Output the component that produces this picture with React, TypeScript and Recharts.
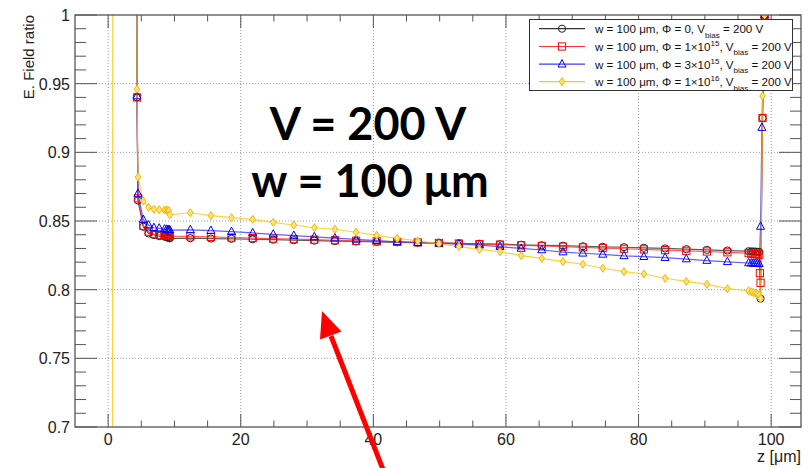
import React from "react"
import { LineChart, Line, XAxis, YAxis, ReferenceLine } from "recharts"

const W = 811
const H = 468
const FONT = "'Liberation Sans', Arial, Helvetica, sans-serif"
const AXIS = "#555"

// axis ticks (ROOT style: minor every 5 um / 0.01, labels on majors)
const xTicks = [0, 5, 10, 15, 20, 25, 30, 35, 40, 45, 50, 55, 60, 65, 70, 75, 80, 85, 90, 95, 100]
const xMajor = [0, 20, 40, 60, 80, 100]
const yTicks = [
  0.7, 0.71, 0.72, 0.73, 0.74, 0.75, 0.76, 0.77, 0.78, 0.79, 0.8, 0.81, 0.82, 0.83, 0.84, 0.85,
  0.86, 0.87, 0.88, 0.89, 0.9, 0.91, 0.92, 0.93, 0.94, 0.95, 0.96, 0.97, 0.98, 0.99, 1,
]
const yMajor = [0.7, 0.75, 0.8, 0.85, 0.9, 0.95, 1]

// z [um] near the front electrode (shared by all four curves)
const zLeft = [4.2, 4.35, 4.5, 5.3, 6.1, 6.9, 7.7, 8.5, 8.8, 9.0, 9.15]
// regular mesh points through the bulk
const zMesh = [
  9.3, 12.4, 15.5, 18.6, 21.8, 24.9, 28.0, 31.1, 34.2, 37.4, 40.5, 43.6, 46.7, 49.9, 52.9,
  56.0, 59.1, 62.3, 65.4, 68.6, 71.6, 74.6, 77.8, 80.8, 84.0, 87.2, 90.3, 93.4, 96.6,
]

// Phi = 0
const blackLeft = [1.6, 0.94, 0.865, 0.8458, 0.841, 0.8398, 0.839, 0.8386, 0.8383, 0.838, 0.8377]
const blackMid = [
  0.8374, 0.8375, 0.8372, 0.837, 0.8367, 0.8364, 0.836, 0.8357, 0.8354, 0.8351, 0.8348, 0.8345,
  0.8342, 0.834, 0.8337, 0.8334, 0.8331, 0.8327, 0.8323, 0.832, 0.8316, 0.8312, 0.8309, 0.8305,
  0.83, 0.8295, 0.829, 0.8285, 0.828,
]
const blackRightZ = [97.0, 97.3, 97.6, 97.9, 98.2, 98.4, 98.7, 99.0]
const blackRight = [0.8278, 0.8278, 0.8277, 0.8276, 0.8275, 0.7935, 0.925, 1.0]

// Phi = 1e15
const redLeft = [1.6, 0.94, 0.8665, 0.8466, 0.8422, 0.8405, 0.84, 0.8396, 0.8394, 0.8392, 0.8391]
const redMid = [
  0.839, 0.8388, 0.8384, 0.838, 0.8376, 0.8372, 0.8368, 0.8364, 0.836, 0.8356, 0.8352, 0.8348,
  0.8344, 0.834, 0.8336, 0.8332, 0.8328, 0.8323, 0.8318, 0.8313, 0.8308, 0.8303, 0.8298, 0.8293,
  0.8288, 0.8283, 0.8278, 0.8272, 0.8266,
]
const redRightZ = [97.0, 97.3, 97.6, 97.9, 98.2, 98.3, 98.4, 98.7, 99.0]
const redRight = [0.8262, 0.826, 0.826, 0.8259, 0.8255, 0.812, 0.805, 0.925, 1.0]

// Phi = 3e15
const blueLeft = [1.6, 0.941, 0.87, 0.851, 0.847, 0.8451, 0.8447, 0.844, 0.8438, 0.8436, 0.8435]
const blueMid = [
  0.8434, 0.8436, 0.843, 0.8422, 0.8413, 0.8403, 0.8394, 0.8384, 0.8375, 0.8366, 0.8357, 0.8349,
  0.8342, 0.8337, 0.8331, 0.8325, 0.8313, 0.83, 0.8289, 0.8274, 0.8265, 0.8257, 0.8246, 0.824,
  0.8233, 0.8223, 0.8212, 0.8203, 0.8194,
]
const blueRightZ = [97.0, 97.3, 97.6, 97.9, 98.2, 98.4, 98.6, 99.0]
const blueRight = [0.8193, 0.8192, 0.8192, 0.819, 0.8188, 0.846, 0.918, 1.0]

// Phi = 1e16
const yellowEdgeZ = [0.62, 0.75]
const yellowEdge = [0.3, 1.6]
const yellowLeft = [1.6, 0.946, 0.882, 0.8645, 0.86, 0.8585, 0.8582, 0.858, 0.8578, 0.8576, 0.8574]
const yellowMid = [
  0.8545, 0.856, 0.8539, 0.8524, 0.8512, 0.849, 0.8471, 0.8451, 0.844, 0.8418, 0.8396, 0.8374,
  0.8355, 0.8335, 0.8314, 0.8293, 0.8276, 0.8248, 0.8228, 0.8204, 0.8185, 0.8156, 0.8131, 0.8114,
  0.8083, 0.806, 0.8039, 0.8007, 0.7992,
]
const yellowRightZ = [97.0, 97.3, 97.6, 97.9, 98.2, 98.4, 98.7, 99.0]
const yellowRight = [0.7985, 0.798, 0.7975, 0.797, 0.796, 0.7935, 0.941, 1.0]

const toPoints = (z: number[], e: number[]) => z.map((zz, i) => ({ z: zz, e: e[i] }))

type Marker = "circle" | "square" | "triangle" | "diamond"

const series = [
  {
    key: "phi0", line: "#333", mark: "#222", marker: "circle" as Marker, phi: "0", exp: "",
    data: [...toPoints(zLeft, blackLeft), ...toPoints(zMesh, blackMid), ...toPoints(blackRightZ, blackRight)],
  },
  {
    key: "phi1e15", line: "#ff3030", mark: "#ff0000", marker: "square" as Marker, phi: "1×10", exp: "15",
    data: [...toPoints(zLeft, redLeft), ...toPoints(zMesh, redMid), ...toPoints(redRightZ, redRight)],
  },
  {
    key: "phi3e15", line: "#3a3aff", mark: "#0000ff", marker: "triangle" as Marker, phi: "3×10", exp: "15",
    data: [...toPoints(zLeft, blueLeft), ...toPoints(zMesh, blueMid), ...toPoints(blueRightZ, blueRight)],
  },
  {
    key: "phi1e16", line: "#ffc60a", mark: "#f2b800", marker: "diamond" as Marker, phi: "1×10", exp: "16",
    data: [
      ...toPoints(yellowEdgeZ, yellowEdge),
      ...toPoints(zLeft, yellowLeft),
      ...toPoints(zMesh, yellowMid),
      ...toPoints(yellowRightZ, yellowRight),
    ],
  },
]

function MarkerShape({ kind, cx, cy, color }: { kind: Marker; cx: number; cy: number; color: string }) {
  if (kind === "circle") return <circle cx={cx} cy={cy} r={3.6} fill="none" stroke={color} strokeWidth={1} />
  if (kind === "square")
    return <rect x={cx - 3.6} y={cy - 3.6} width={7.2} height={7.2} fill="none" stroke={color} strokeWidth={1} />
  if (kind === "triangle")
    return (
      <polygon
        points={`${cx},${cy - 4.6} ${cx - 4},${cy + 2.8} ${cx + 4},${cy + 2.8}`}
        fill="none"
        stroke={color}
        strokeWidth={1}
      />
    )
  return (
    <polygon
      points={`${cx},${cy - 4} ${cx + 2.8},${cy} ${cx},${cy + 4} ${cx - 2.8},${cy}`}
      fill="#ffe27a"
      stroke={color}
      strokeWidth={1}
    />
  )
}

const makeDot = (kind: Marker, color: string) => (p: any) => {
  const v = p.value
  if (v == null || v > 1.0005 || v < 0.6995 || p.cx == null) return <g key={p.index} />
  return (
    <g key={p.index}>
      <MarkerShape kind={kind} cx={p.cx} cy={p.cy} color={color} />
    </g>
  )
}

const isMajor = (list: number[], v: number) => list.some((m) => Math.abs(m - v) < 1e-9)

function BottomTick(p: any) {
  const v = p.payload.value
  const major = isMajor(xMajor, v)
  const x = p.payload.coordinate ?? p.x
  return (
    <g>
      <line x1={x} x2={x} y1={427} y2={427 - (major ? 13 : 6.5)} stroke={AXIS} />
      {major && (
        <text x={x} y={445} textAnchor="middle" fontSize={16} fontFamily={FONT} fill="#222">
          {v}
        </text>
      )}
    </g>
  )
}

function TopTick(p: any) {
  const major = isMajor(xMajor, p.payload.value)
  const x = p.payload.coordinate ?? p.x
  return <line x1={x} x2={x} y1={15} y2={15 + (major ? 13 : 6.5)} stroke={AXIS} />
}

function LeftTick(p: any) {
  const v = p.payload.value
  const major = isMajor(yMajor, v)
  const y = p.payload.coordinate ?? p.y
  return (
    <g>
      <line x1={75} x2={75 + (major ? 22 : 11)} y1={y} y2={y} stroke={AXIS} />
      {major && (
        <text x={70} y={y + 6} textAnchor="end" fontSize={16} fontFamily={FONT} fill="#222">
          {String(v)}
        </text>
      )}
    </g>
  )
}

function RightTick(p: any) {
  const major = isMajor(yMajor, p.payload.value)
  const y = p.payload.coordinate ?? p.y
  return <line x1={801} x2={801 - (major ? 22 : 11)} y1={y} y2={y} stroke={AXIS} />
}

function LegendBox() {
  const rows = [28.7, 46.5, 64.2, 81.7]
  return (
    <svg width={W} height={H} style={{ position: "absolute", left: 0, top: 0, pointerEvents: "none" }}>
      <rect x={529.5} y={19.5} width={263} height={71} fill="#fff" stroke="#333" strokeWidth={1} />
      {series.map((s, i) => {
        const y = rows[i]
        return (
          <g key={s.key}>
            <line x1={539} x2={585} y1={y} y2={y} stroke={s.line} strokeWidth={1.2} />
            <MarkerShape kind={s.marker} cx={562} cy={y} color={s.mark} />
            <text x={595} y={y + 4.3} fontSize={11.6} fontFamily={FONT} fill="#111">
              <tspan>{`w = 100 μm, Φ = ${s.phi}`}</tspan>
              {s.exp && (
                <tspan dy={-5} fontSize={8}>
                  {s.exp}
                </tspan>
              )}
              <tspan dy={s.exp ? 5 : 0}>, V</tspan>
              <tspan dy={4.5} fontSize={8}>
                bias
              </tspan>
              <tspan dy={-4.5}> = 200 V</tspan>
            </text>
          </g>
        )
      })}
    </svg>
  )
}

function Annotations() {
  // red arrow pointing at the curves
  const tip = { x: 322, y: 311 }
  return (
    <svg width={W} height={H} style={{ position: "absolute", left: 0, top: 0, pointerEvents: "none" }}>
      <rect x={75} y={15} width={726} height={412} fill="none" stroke={AXIS} strokeWidth={1.3} />
      <text x={368} y={140} textAnchor="middle" fontSize={45} fontWeight={700} fontFamily="Lato, 'Open Sans', sans-serif" fill="#000">
        V = 200 V
      </text>
      <text x={370} y={197} textAnchor="middle" fontSize={45} fontWeight={700} fontFamily="Lato, 'Open Sans', sans-serif" fill="#000">
        w = 100 μm
      </text>
      <line x1={384} y1={472} x2={331} y2={336} stroke="#ff0000" strokeWidth={5} />
      <polygon points={`${tip.x},${tip.y} 341.5,331.5 320,339.5`} fill="#ff0000" />
      <text x={801} y={462} textAnchor="end" fontSize={16} fontFamily={FONT} fill="#222">
        z [μm]
      </text>
      <text x={34} y={15} textAnchor="end" fontSize={15} fontFamily={FONT} fill="#222" transform="rotate(-90 34 15)">
        E. Field ratio
      </text>
    </svg>
  )
}

export default function App() {
  return (
    <div style={{ position: "absolute", left: 0, top: 0, width: W, height: H, background: "#fff" }}>
      <LineChart width={W} height={H} margin={{ top: 14, right: 9, bottom: 40, left: 74 }}>
        <XAxis
          xAxisId="b"
          type="number"
          dataKey="z"
          domain={[-5, 104.5]}
          allowDataOverflow
          ticks={xTicks}
          interval={0}
          height={1}
          tickSize={0}
          tickMargin={0}
          tickLine={false}
          axisLine={false}
          tick={BottomTick}
        />
        <XAxis
          xAxisId="t"
          orientation="top"
          type="number"
          dataKey="z"
          domain={[-5, 104.5]}
          allowDataOverflow
          ticks={xTicks}
          interval={0}
          height={1}
          tickSize={0}
          tickMargin={0}
          tickLine={false}
          axisLine={false}
          tick={TopTick}
        />
        <YAxis
          yAxisId="l"
          type="number"
          domain={[0.7, 1]}
          allowDataOverflow
          ticks={yTicks}
          interval={0}
          width={1}
          tickSize={0}
          tickMargin={0}
          tickLine={false}
          axisLine={false}
          tick={LeftTick}
        />
        <YAxis
          yAxisId="r"
          orientation="right"
          type="number"
          domain={[0.7, 1]}
          allowDataOverflow
          ticks={yTicks}
          interval={0}
          width={1}
          tickSize={0}
          tickMargin={0}
          tickLine={false}
          axisLine={false}
          tick={RightTick}
        />
        {xMajor.map((v) => (
          <ReferenceLine key={"gx" + v} x={v} xAxisId="b" yAxisId="l" stroke="#9a9a9a" strokeDasharray="1 2" />
        ))}
        {yMajor.slice(1, -1).map((v) => (
          <ReferenceLine key={"gy" + v} y={v} xAxisId="b" yAxisId="l" stroke="#9a9a9a" strokeDasharray="1 2" />
        ))}
        {series.map((s) => (
          <Line
            key={s.key}
            data={s.data}
            dataKey="e"
            xAxisId="b"
            yAxisId="l"
            type="linear"
            stroke={s.line}
            strokeOpacity={0.8}
            strokeWidth={1.2}
            dot={makeDot(s.marker, s.mark)}
            activeDot={false}
            isAnimationActive={false}
          />
        ))}
      </LineChart>
      <Annotations />
      <LegendBox />
    </div>
  )
}
